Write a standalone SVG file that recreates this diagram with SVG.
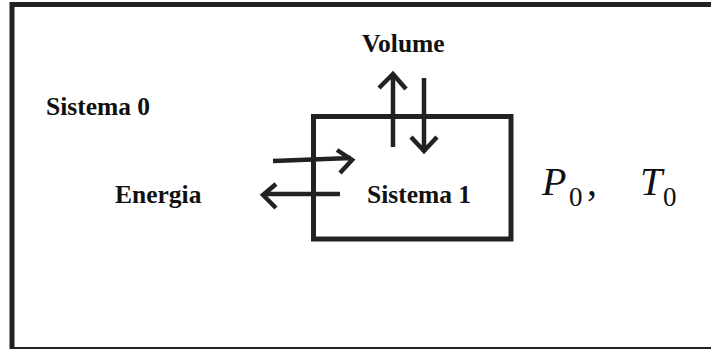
<svg xmlns="http://www.w3.org/2000/svg" width="711" height="349" viewBox="0 0 711 349">
<style>
.frame{fill:none;stroke:#222;stroke-width:5}
.arr{fill:none;stroke:#222;stroke-width:4.5;stroke-linecap:butt;stroke-linejoin:miter}
.lbl{font-family:"Liberation Serif","Times New Roman",serif;font-weight:bold;font-size:25.5px;fill:#111}
.math{font-family:"Liberation Serif","Times New Roman",serif;fill:#111}
</style>
<rect x="0" y="0" width="711" height="349" fill="#fff"/>
<g id="sistema0">
<rect class="frame" x="12" y="4.5" width="712" height="345"/>
<text class="lbl" x="46" y="115">Sistema 0</text>
</g>
<g id="sistema1">
<rect class="frame" x="313.5" y="116.5" width="197.5" height="122.5"/>
<text class="lbl" x="367" y="203">Sistema 1</text>
</g>
<g id="labels">
<text class="lbl" x="362" y="52">Volume</text>
<text class="lbl" x="115" y="203">Energia</text>
<text class="math" x="542" y="195" font-style="italic" font-size="40">P</text>
<text class="math" x="569" y="206" font-size="27">0</text>
<text class="math" x="587" y="195" font-size="40">,</text>
<text class="math" x="640" y="195" font-style="italic" font-size="40">T</text>
<text class="math" x="663" y="206" font-size="27">0</text>
</g>
<g id="connectors">
<path class="arr" d="M393 147 V75 M379 88 L393 74 L406 89"/>
<path class="arr" d="M424 78 V151 M411 137 L424 151 L437 137"/>
<path class="arr" d="M273 161 L351 158 M337 150 L352 160 L340 173"/>
<path class="arr" d="M340 194 L264 194 M276 184 L263 195 L276 208"/>
</g>
</svg>
